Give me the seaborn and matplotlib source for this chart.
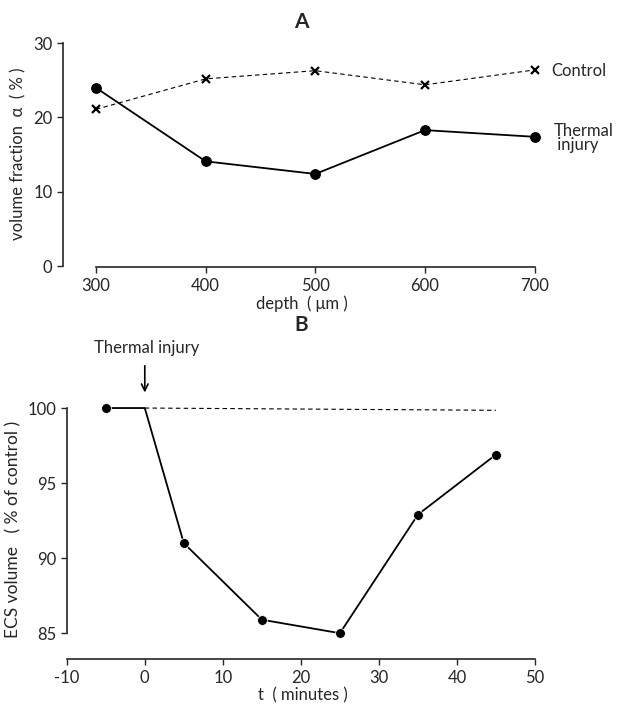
import numpy as np
import pandas as pd
import seaborn as sns
import matplotlib.pyplot as plt

# Panel A data
depth = [300, 400, 500, 600, 700]
control = [21.1, 25.2, 26.3, 24.4, 26.4]
thermal = [24.0, 14.1, 12.4, 18.3, 17.4]
# Panel B data
t_min = [-5, 0, 5, 15, 25, 35, 45]
ecs = [100, 100, 91.0, 85.9, 85.0, 92.9, 96.9]
t_marked = [-5, 5, 15, 25, 35, 45]
ecs_marked = [100, 91.0, 85.9, 85.0, 92.9, 96.9]
t_base = [0, 45]
base = [100, 99.85]

sns.set_style("ticks")
plt.rcParams['font.family'] = ['Lato', 'DejaVu Sans']
plt.rcParams['font.size'] = 12

dfa = pd.DataFrame({'depth': depth, 'Control': control, 'Thermal': thermal})
dfb = pd.DataFrame({'t': t_min, 'ecs': ecs})
dfm = pd.DataFrame({'t': t_marked, 'ecs': ecs_marked})
dfbase = pd.DataFrame({'t': t_base, 'ecs': base})

fig = plt.figure(figsize=(6.18, 7.05), dpi=100)
axA = fig.add_axes([0.102, 0.621, 0.772, 0.323])
axB = fig.add_axes([0.108, 0.065, 0.764, 0.369])

################ A ################
sns.lineplot(data=dfa, x='depth', y='Control', ax=axA, color='black', lw=0.8,
             linestyle=(0, (4, 3)))
axA.plot(dfa['depth'], dfa['Control'], linestyle='none', marker='x',
         markersize=6, mew=1.6, color='black')
sns.lineplot(data=dfa, x='depth', y='Thermal', ax=axA, color='black', lw=1.3,
             marker='o', markersize=7, mec='black')
axA.set_xlim(270, 705)
axA.set_ylim(-0.15, 30.5)
axA.set_xticks(depth)
axA.set_yticks([0, 10, 20, 30])
axA.spines['bottom'].set_bounds(300, 700)
axA.spines['left'].set_bounds(0, 30)
sns.despine(ax=axA)
axA.set_xlabel('depth  ( μm )', fontsize=12, labelpad=1)
axA.set_ylabel('volume fraction  α  ( % )', fontsize=12, labelpad=5)
axA.text(715, 26.2, 'Control', va='center', ha='left', fontsize=12, clip_on=False)
axA.text(717, 17.2, 'Thermal\n injury', va='center', ha='left', fontsize=12,
         linespacing=0.85, clip_on=False)

################ B ################
sns.lineplot(data=dfbase, x='t', y='ecs', ax=axB, color='black', lw=0.8,
             linestyle=(0, (4, 3)))
sns.lineplot(data=dfb, x='t', y='ecs', ax=axB, color='black', lw=1.3)
sns.scatterplot(data=dfm, x='t', y='ecs', ax=axB, color='black', s=50, zorder=3)
axB.set_xlim(-10, 50.5)
axB.set_ylim(83.27, 100.6)
axB.set_xticks(range(-10, 51, 10))
axB.set_xticklabels(['-10', '0', '10', '20', '30', '40', '50'])
axB.set_yticks([85, 90, 95, 100])
axB.spines['left'].set_bounds(85, 100)
axB.spines['bottom'].set_bounds(-10, 50)
sns.despine(ax=axB)
axB.set_xlabel('t  ( minutes )', fontsize=12, labelpad=1)
axB.set_ylabel('ECS volume   ( % of control )', fontsize=12.5, labelpad=4)
axB.annotate('', xy=(0, 100.85), xytext=(0, 103.0),
             arrowprops=dict(arrowstyle='->', color='black', lw=1.2), annotation_clip=False)
axB.text(0.2, 104.0, 'Thermal injury', ha='center', va='center', fontsize=12, clip_on=False)

fig.text(301 / 618, 1 - 22 / 705, 'A', ha='center', va='center', fontsize=15, fontweight='bold')
fig.text(301 / 618, 1 - 325 / 705, 'B', ha='center', va='center', fontsize=15, fontweight='bold')

for ax in (axA, axB):
    ax.tick_params(labelsize=12, width=1, length=4)
    for s in ax.spines.values():
        s.set_linewidth(1.2)

fig.savefig('out.png', dpi=100)
